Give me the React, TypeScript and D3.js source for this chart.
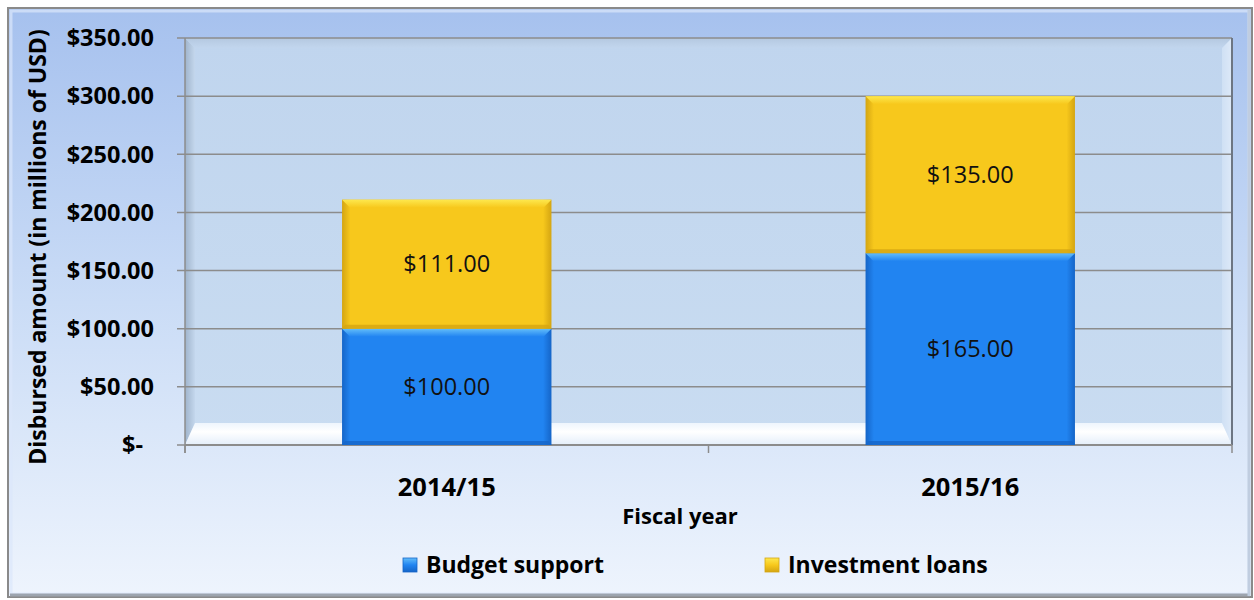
import React from "react";
import * as d3 from "d3";

const categories = ["2014/15", "2015/16"];
const budgetSupport = [100, 165];
const investmentLoans = [111, 135];
const yTicks = [0, 50, 100, 150, 200, 250, 300, 350];
const seriesNames = ["Budget support", "Investment loans"];

const W = 1254;
const H = 600;
const FONT = "'Open Sans', sans-serif";

const fmt = (v: number) => (v === 0 ? "$-" : "$" + d3.format(",.2f")(v));

export default function App() {
  const left = 185, right = 1232, top = 38, bottom = 445;
  const y = d3.scaleLinear().domain([0, 350]).range([bottom, top]);
  const x = d3.scaleBand().domain(categories).range([left, right]).padding(0);
  const barW = x.bandwidth() * 0.4;

  const stackData = categories.map((c, i) => ({ cat: c, b: budgetSupport[i], inv: investmentLoans[i] }));
  const stack = d3.stack<any>().keys(["b", "inv"])(stackData);

  const colors = [
    { main: "#2184f1", light: "#62bdfa", dark: "#1565c8", edge: "#1a6fd6" },
    { main: "#f7c81c", light: "#fde84e", dark: "#d4a512", edge: "#e2b515" },
  ];

  const bev = 8;

  return (
    <svg width={W} height={H} style={{ position: "absolute", left: 0, top: 0 }}>
      <defs>
        <linearGradient id="bgGrad" x1="0" y1="0" x2="0" y2="1">
          <stop offset="0" stopColor="#a6c1ee" />
          <stop offset="0.5" stopColor="#cadcf6" />
          <stop offset="1" stopColor="#eef4fd" />
        </linearGradient>
        <linearGradient id="plotGrad" x1="0" y1="0" x2="0" y2="1">
          <stop offset="0" stopColor="#c0d5ee" />
          <stop offset="1" stopColor="#c9dcf1" />
        </linearGradient>
        <linearGradient id="floorGrad" x1="0" y1="0" x2="0" y2="1">
          <stop offset="0" stopColor="#eef5fd" />
          <stop offset="0.4" stopColor="#ffffff" />
          <stop offset="1" stopColor="#e4eefa" />
        </linearGradient>
        <linearGradient id="leftWall" x1="0" y1="0" x2="1" y2="0">
          <stop offset="0" stopColor="#9fb4cc" />
          <stop offset="1" stopColor="#c4d7ed" />
        </linearGradient>
        <linearGradient id="rightWall" x1="0" y1="0" x2="1" y2="0">
          <stop offset="0" stopColor="#cfe0f4" />
          <stop offset="1" stopColor="#dde9f8" />
        </linearGradient>
        <linearGradient id="topWall" x1="0" y1="0" x2="0" y2="1">
          <stop offset="0" stopColor="#b4c8e0" />
          <stop offset="1" stopColor="#c2d6ee" />
        </linearGradient>
        {colors.map((c, i) => (
          <linearGradient key={i} id={`barH${i}`} x1="0" y1="0" x2="1" y2="0">
            <stop offset="0" stopColor={c.dark} />
            <stop offset="0.04" stopColor={c.main} />
            <stop offset="0.96" stopColor={c.main} />
            <stop offset="1" stopColor={c.dark} />
          </linearGradient>
        ))}
        {colors.map((c, i) => (
          <linearGradient key={"t" + i} id={`barTop${i}`} x1="0" y1="0" x2="0" y2="1">
            <stop offset="0" stopColor={c.light} />
            <stop offset="1" stopColor={c.main} />
          </linearGradient>
        ))}
        {colors.map((c, i) => (
          <linearGradient key={"l" + i} id={`leg${i}`} x1="0" y1="0" x2="0" y2="1">
            <stop offset="0" stopColor={c.light} />
            <stop offset="0.5" stopColor={c.main} />
            <stop offset="1" stopColor={c.dark} />
          </linearGradient>
        ))}
      </defs>

      {/* outer chart frame */}
      <rect x={8} y={8} width={1244} height={589} fill="url(#bgGrad)" stroke="#8a8a8a" strokeWidth={2} />
      <rect x={11} y={11} width={1238} height={583} fill="none" stroke="#dbe7fb" strokeWidth={3} opacity={0.7} />
      <line x1={10} y1={595} x2={1250} y2={595} stroke="#9da4ae" strokeWidth={3} />
      <line x1={1249} y1={10} x2={1249} y2={596} stroke="#c0cde0" strokeWidth={3} />

      {/* plot area with 3D walls */}
      <rect x={left} y={top} width={right - left} height={bottom - top} fill="url(#plotGrad)" />
      <polygon points={`${left},${top} ${left + 10},${top + 10} ${left + 10},${bottom - 22} ${left},${bottom}`} fill="url(#leftWall)" />
      <polygon points={`${left},${top} ${right},${top} ${right - 10},${top + 10} ${left + 10},${top + 10}`} fill="url(#topWall)" />
      <polygon points={`${right},${top} ${right},${bottom} ${right - 10},${bottom - 22} ${right - 10},${top + 10}`} fill="url(#rightWall)" />
      <polygon points={`${left + 10},${bottom - 22} ${right - 10},${bottom - 22} ${right},${bottom} ${left},${bottom}`} fill="url(#floorGrad)" />

      {/* gridlines */}
      {yTicks.map((t) => (
        <line key={t} x1={left - 8} x2={right} y1={y(t)} y2={y(t)} stroke="#8c8c8c" strokeWidth={1.5} />
      ))}
      <line x1={right} x2={right} y1={top} y2={bottom} stroke="#6d7683" strokeWidth={2} />
      <line x1={left} x2={left} y1={top} y2={bottom + 8} stroke="#8c8c8c" strokeWidth={1.5} />
      <line x1={left} x2={right} y1={bottom} y2={bottom} stroke="#8c8c8c" strokeWidth={2} />
      {[left, (left + right) / 2, right].map((tx, i) => (
        <line key={i} x1={tx} x2={tx} y1={bottom} y2={bottom + 8} stroke="#8c8c8c" strokeWidth={1.5} />
      ))}

      {/* bars */}
      {stack.map((layer, si) =>
        layer.map((d, ci) => {
          const cat = categories[ci];
          const bx = (x(cat) as number) + (x.bandwidth() - barW) / 2;
          const y0 = y(d[0]);
          const y1 = y(d[1]);
          const h = y0 - y1;
          const c = colors[si];
          const val = d[1] - d[0];
          return (
            <g key={`${si}-${ci}`}>
              <rect x={bx} y={y1} width={barW} height={h} fill={`url(#barH${si})`} />
              <polygon
                points={`${bx},${y1} ${bx + barW},${y1} ${bx + barW - bev},${y1 + bev} ${bx + bev},${y1 + bev}`}
                fill={`url(#barTop${si})`}
              />
              <polygon
                points={`${bx},${y0} ${bx + barW},${y0} ${bx + barW - 3},${y0 - 4} ${bx + 3},${y0 - 4}`}
                fill={c.dark}
                opacity={0.8}
              />
              <text
                x={bx + barW / 2}
                y={(y0 + y1) / 2}
                dy="0.35em"
                textAnchor="middle"
                fontFamily={FONT}
                fontSize={23.5}
                fill="#111"
              >
                {fmt(val)}
              </text>
            </g>
          );
        })
      )}

      {/* y tick labels */}
      {yTicks.map((t) => (
        <text
          key={t}
          x={t === 0 ? 143 : 154}
          y={y(t)}
          dy="0.35em"
          textAnchor="end"
          fontFamily={FONT}
          fontWeight="bold"
          fontSize={23.5}
          fill="#000"
        >
          {fmt(t)}
        </text>
      ))}

      {/* y axis title */}
      <text
        transform={`translate(46,247) rotate(-90)`}
        textAnchor="middle"
        fontFamily={FONT}
        fontWeight="bold"
        fontSize={23}
        fill="#000"
      >
        Disbursed amount (in millions of USD)
      </text>

      {/* x labels */}
      {categories.map((c) => (
        <text
          key={c}
          x={(x(c) as number) + x.bandwidth() / 2}
          y={496}
          textAnchor="middle"
          fontFamily={FONT}
          fontWeight="bold"
          fontSize={25.5}
          fill="#000"
        >
          {c}
        </text>
      ))}
      <text x={680} y={524} textAnchor="middle" fontFamily={FONT} fontWeight="bold" fontSize={22} fill="#000">
        Fiscal year
      </text>

      {/* legend */}
      {seriesNames.map((s, i) => {
        const lx = i === 0 ? 403 : 765;
        return (
          <g key={s}>
            <rect x={lx} y={558} width={14} height={14} fill={`url(#leg${i})`} stroke={colors[i].dark} strokeWidth={0.8} />
            <text x={lx + 23} y={573} fontFamily={FONT} fontWeight="bold" fontSize={23} fill="#000">
              {s}
            </text>
          </g>
        );
      })}
    </svg>
  );
}
